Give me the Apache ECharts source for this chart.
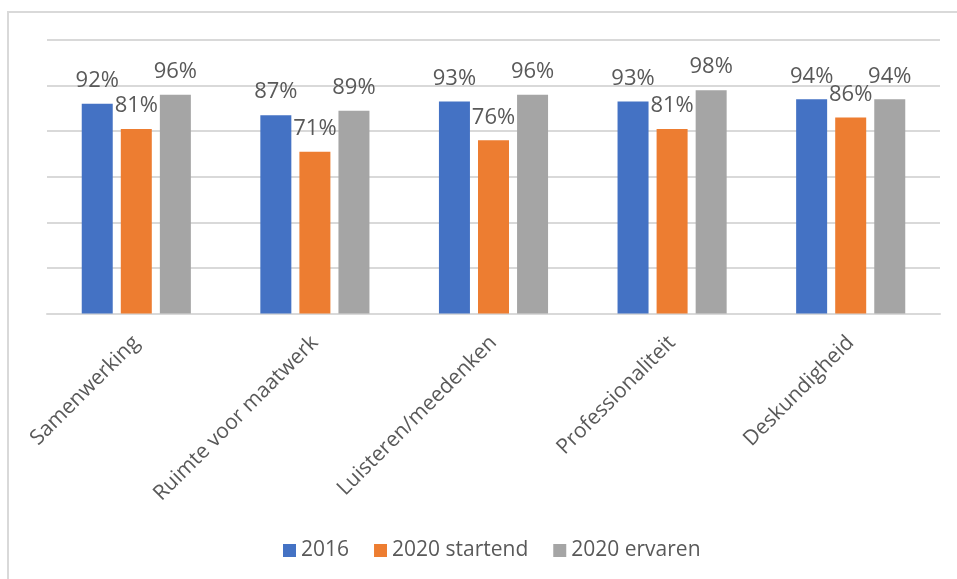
<!DOCTYPE html>
<html>
<head>
<meta charset="utf-8">
<script src="https://cdn.jsdelivr.net/npm/echarts@6/dist/echarts.min.js"></script>
<style>
  html, body { margin: 0; padding: 0; background: #fff; }
  #chart { width: 957px; height: 579px; }
</style>
</head>
<body>
<div id="chart"></div>
<script>
// data
const categories = ['Samenwerking', 'Ruimte voor maatwerk', 'Luisteren/meedenken', 'Professionaliteit', 'Deskundigheid']
const seriesNames = ['2016', '2020 startend', '2020 ervaren']
const values2016 = [92, 87, 93, 93, 94]
const values2020Startend = [81, 71, 76, 81, 86]
const values2020Ervaren = [96, 89, 96, 98, 94]
const colors = ['#4472c4', '#ed7d31', '#a5a5a5']

const textColor = '#595959'
const font = 'Open Sans'

const chart = echarts.init(document.getElementById('chart'))

const makeSeries = (name, data, color) => ({
  name: name,
  type: 'bar',
  data: data,
  barWidth: 31,
  barGap: '26%',
  itemStyle: { color: color },
  label: {
    show: true,
    position: 'top',
    distance: 12,
    formatter: '{c}%',
    color: textColor,
    fontFamily: font,
    fontSize: 22
  }
})

chart.setOption({
  animation: false,
  color: colors,
  textStyle: { fontFamily: font },
  graphic: [{
    type: 'rect',
    shape: { x: 8, y: 12, width: 1000, height: 700 },
    style: { fill: 'none', stroke: '#d9d9d9', lineWidth: 2 },
    silent: true
  }],
  grid: { left: 47, right: 17, top: 40, bottom: 265.5 },
  legend: {
    data: seriesNames,
    left: 278,
    top: 535,
    itemWidth: 13,
    itemHeight: 13,
    itemGap: 25,
    icon: 'rect',
    textStyle: { color: textColor, fontSize: 21, fontFamily: font }
  },
  xAxis: {
    type: 'category',
    data: categories,
    axisLine: { lineStyle: { color: '#d9d9d9', width: 2 } },
    axisTick: { show: false },
    axisLabel: {
      rotate: 45,
      margin: 26,
      color: textColor,
      fontSize: 21,
      fontFamily: font
    }
  },
  yAxis: {
    type: 'value',
    min: 0,
    max: 120,
    interval: 20,
    axisLabel: { show: false },
    axisLine: { show: false },
    axisTick: { show: false },
    splitLine: { lineStyle: { color: '#d9d9d9', width: 2 } }
  },
  series: [
    makeSeries(seriesNames[0], values2016, colors[0]),
    makeSeries(seriesNames[1], values2020Startend, colors[1]),
    makeSeries(seriesNames[2], values2020Ervaren, colors[2])
  ]
})

window.addEventListener('resize', () => {
  chart.resize()
})
</script>
</body>
</html>
